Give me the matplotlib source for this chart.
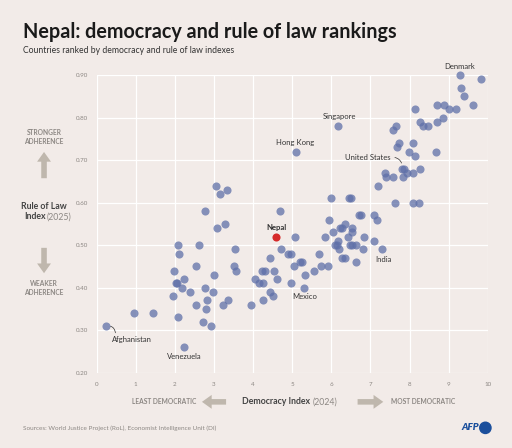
import numpy as np
import pandas as pd
import matplotlib.pyplot as plt
import matplotlib.patches as mpatches

plt.rcParams['font.family'] = ['Lato', 'DejaVu Sans']

# Datos: indice de democracia (x) y estado de derecho (y)
democracia = [3.05, 3.16, 3.33, 2.77, 3.07, 3.27, 2.09, 2.62, 2.11, 3.54,
              2.54, 1.98, 3.51, 3.57, 3.00, 2.24, 2.02, 2.06, 2.18, 2.39,
              2.78, 2.98, 1.95, 2.83, 2.55, 2.79, 3.22, 3.37, 3.96, 0.96,
              1.45, 2.07, 2.73, 2.93, 0.25, 2.24,
              4.05, 4.16, 4.25, 4.24, 4.31, 4.54, 4.61, 4.43, 4.50, 4.25,
              4.69, 5.06, 4.71, 4.89, 4.96, 4.43, 4.97, 5.31, 5.33, 5.05,
              5.21, 5.24, 5.57, 5.73, 5.91, 5.69, 5.84, 5.93, 5.99, 6.46,
              6.50, 7.20, 7.64, 8.08, 8.23, 6.72, 6.76, 7.10, 7.16, 6.34,
              6.04, 6.23, 6.28, 6.52, 6.52, 6.84, 6.44, 6.18, 7.10, 6.09,
              6.14, 6.48, 6.52, 6.63, 6.20, 6.80, 7.29, 6.27, 6.35, 6.63,
              9.28, 9.82, 9.31, 9.40, 9.62, 8.71, 8.88, 9.01, 9.19, 8.13,
              8.86, 8.70, 8.28, 8.34, 8.48, 7.65, 7.59, 7.74, 8.08, 7.67,
              7.99, 8.67, 8.13, 7.82, 7.86, 7.93, 8.08, 8.28, 7.38, 7.40,
              7.57, 7.83, 6.18, 5.09]
estado_derecho = [0.64, 0.62, 0.63, 0.58, 0.54, 0.55, 0.50, 0.50, 0.48, 0.49,
                  0.45, 0.44, 0.45, 0.44, 0.43, 0.42, 0.41, 0.41, 0.40, 0.39,
                  0.40, 0.39, 0.38, 0.37, 0.36, 0.35, 0.36, 0.37, 0.36, 0.34,
                  0.34, 0.33, 0.32, 0.31, 0.31, 0.26,
                  0.42, 0.41, 0.41, 0.44, 0.44, 0.44, 0.42, 0.39, 0.38, 0.37,
                  0.58, 0.52, 0.49, 0.48, 0.48, 0.47, 0.41, 0.40, 0.43, 0.45,
                  0.46, 0.46, 0.44, 0.45, 0.45, 0.48, 0.52, 0.56, 0.61, 0.61,
                  0.61, 0.64, 0.60, 0.60, 0.60, 0.57, 0.57, 0.57, 0.56, 0.55,
                  0.53, 0.54, 0.54, 0.54, 0.53, 0.52, 0.52, 0.51, 0.51, 0.50,
                  0.50, 0.50, 0.50, 0.50, 0.49, 0.49, 0.49, 0.47, 0.47, 0.46,
                  0.90, 0.89, 0.87, 0.85, 0.83, 0.83, 0.83, 0.82, 0.82, 0.82,
                  0.80, 0.79, 0.79, 0.78, 0.78, 0.78, 0.77, 0.74, 0.74, 0.73,
                  0.72, 0.72, 0.71, 0.68, 0.68, 0.67, 0.67, 0.68, 0.67, 0.66,
                  0.66, 0.66, 0.78, 0.72]

nepal = (4.59, 0.52)

# Etiquetas: (texto, x, y del texto)
etiquetas = [("Denmark", 9.27, 0.919),
             ("Singapore", 6.20, 0.803),
             ("Hong Kong", 5.07, 0.742),
             ("India", 7.33, 0.467),
             ("Mexico", 5.33, 0.378),
             ("Venezuela", 2.24, 0.238)]

x_ticks = list(range(0, 11))
y_ticks = [0.20, 0.30, 0.40, 0.50, 0.60, 0.70, 0.80, 0.90]

fondo = '#f2ebe8'
gris = '#8c8783'
flecha = '#bfb7ad'
azul = '#5f70a8'

fig = plt.figure(figsize=(5.12, 4.48), dpi=100, facecolor=fondo)
ax = fig.add_axes([0.1887, 0.1681, 0.7639, 0.6645])
ax.set_facecolor(fondo)

ax.scatter(democracia, estado_derecho, s=34, color=azul, alpha=0.75,
           linewidths=0, zorder=3, clip_on=False)
ax.scatter([nepal[0]], [nepal[1]], s=34, color='#d62a2a', linewidths=0,
           zorder=4, clip_on=False)

ax.set_xlim(0, 10)
ax.set_ylim(0.2, 0.9)
ax.set_xticks(x_ticks)
ax.set_yticks(y_ticks)
ax.set_yticklabels(["%.2f" % v for v in y_ticks])
ax.grid(color='white', linewidth=0.9, zorder=0)
ax.set_axisbelow(True)
for s in ax.spines.values():
    s.set_visible(False)
ax.tick_params(length=0, labelsize=4.5, labelcolor=gris)
ax.tick_params(axis='y', pad=6)
ax.tick_params(axis='x', pad=7)

# Etiquetas de paises
for texto, tx, ty in etiquetas:
    ax.text(tx, ty, texto, fontsize=5.5, color='#333333', ha='center', va='center', zorder=5)
ax.text(4.59, 0.541, "Nepal", fontsize=5.5, color='#333333', ha='center', va='center',
        fontweight='bold', zorder=5)

ax.annotate("Afghanistan", xy=(0.25, 0.31), xytext=(0.38, 0.279), fontsize=5.5,
            color='#333333', ha='left', va='center',
            arrowprops=dict(arrowstyle='-', color='#333333', lw=0.5,
                            connectionstyle='arc3,rad=0.5', relpos=(0.1, 1.3),
                            shrinkA=0, shrinkB=3))
ax.annotate("United States", xy=(7.82, 0.68), xytext=(7.52, 0.707), fontsize=5.5,
            color='#333333', ha='right', va='center',
            arrowprops=dict(arrowstyle='-', color='#333333', lw=0.5,
                            connectionstyle='arc3,rad=-0.5', relpos=(1.0, 0.5),
                            shrinkA=1, shrinkB=4))

# Titulos
fig.text(0.045, 0.915, "Nepal: democracy and rule of law rankings", fontsize=14.2,
         fontweight='bold', color='#1a1a1a', va='baseline')
fig.text(0.045, 0.882, "Countries ranked by democracy and rule of law indexes",
         fontsize=6.2, color='#333333', va='baseline')

# Eje Y a la izquierda
fig.text(0.086, 0.694, "STRONGER\nADHERENCE", fontsize=4.8, color=gris, ha='center',
         va='center', fontweight='bold', linespacing=1.4)
fig.text(0.086, 0.357, "WEAKER\nADHERENCE", fontsize=4.8, color=gris, ha='center',
         va='center', fontweight='bold', linespacing=1.4)
fig.text(0.086, 0.538, "Rule of Law", fontsize=6.3, color='#444444', ha='center',
         va='center', fontweight='bold')
fig.text(0.089, 0.516, "Index", fontsize=6.3, color='#444444', ha='right',
         va='center', fontweight='bold')
fig.text(0.091, 0.516, "(2025)", fontsize=6.3, color=gris, ha='left', va='center')

estilo = 'simple,head_length=7,head_width=10,tail_width=4'
for a, b in [((0.086, 0.596), (0.086, 0.667)),
             ((0.086, 0.453), (0.086, 0.384)),
             ((0.447, 0.103), (0.389, 0.103)),
             ((0.693, 0.103), (0.754, 0.103))]:
    fig.add_artist(mpatches.FancyArrowPatch(a, b, transform=fig.transFigure,
                                            arrowstyle=estilo, mutation_scale=1,
                                            color=flecha, linewidth=0))

# Eje X abajo
fig.text(0.320, 0.103, "LEAST DEMOCRATIC", fontsize=4.8, color=gris, ha='center',
         va='center', fontweight='bold')
fig.text(0.764, 0.103, "MOST DEMOCRATIC", fontsize=4.8, color=gris, ha='left',
         va='center', fontweight='bold')
fig.text(0.606, 0.103, "Democracy Index", fontsize=6.3, color='#444444', ha='right',
         va='center', fontweight='bold')
fig.text(0.610, 0.103, "(2024)", fontsize=6.3, color=gris, ha='left', va='center')

fig.text(0.045, 0.045, "Sources: World Justice Project (RoL), Economist Intelligence Unit (DI)",
         fontsize=4.6, color=gris, va='center')

# Logo AFP
fig.text(0.935, 0.045, "AFP", fontsize=7, color='#1b4f9c', ha='right', va='center',
         fontweight='heavy', style='italic')
fig.add_artist(mpatches.Ellipse((0.948, 0.045), 0.022, 0.022 * 512 / 448,
                                transform=fig.transFigure, color='#1b4f9c'))

plt.savefig('out.png', dpi=100, facecolor=fondo)
